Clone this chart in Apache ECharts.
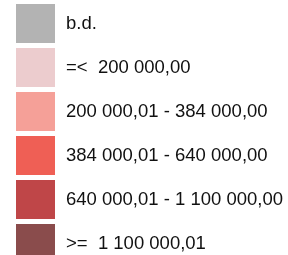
<!DOCTYPE html>
<html>
<head>
<meta charset="utf-8">
<script src="https://cdn.jsdelivr.net/npm/echarts@6/dist/echarts.min.js"></script>
<style>html,body{margin:0;padding:0;background:#fff;}#c{width:288px;height:255px;}</style>
</head>
<body>
<div id="c"></div>
<script>
var categories = ['b.d.', '=<  200 000,00', '200 000,01 - 384 000,00', '384 000,01 - 640 000,00', '640 000,01 - 1 100 000,00', '>=  1 100 000,01'];
var colors = ['#b3b3b3', '#ecccce', '#f5a098', '#ef5f55', '#bf4648', '#8a4c4c'];

var chart = echarts.init(document.getElementById('c'), null, {renderer: 'canvas'});
chart.setOption({
  animation: false,
  grid: {show: false, left: 0, right: 0, top: 0, bottom: 0},
  xAxis: {show: false, type: 'value'},
  yAxis: {show: false, type: 'value'},
  legend: {
    type: 'plain',
    orient: 'vertical',
    left: 16,
    top: 4,
    width: 272,
    height: 400,
    padding: 0,
    itemWidth: 39,
    itemHeight: 39,
    itemGap: 5,
    icon: 'rect',
    selectedMode: false,
    itemStyle: {opacity: 1},
    textStyle: {
      fontFamily: 'Liberation Sans, Arial, sans-serif',
      fontSize: 18.5,
      color: '#111',
      padding: [0, 0, 5, 6]
    },
    data: categories
  },
  series: categories.map(function (name, i) {
    return {type: 'scatter', name: name, data: [], itemStyle: {color: colors[i], opacity: 1}};
  })
});
</script>
</body>
</html>
